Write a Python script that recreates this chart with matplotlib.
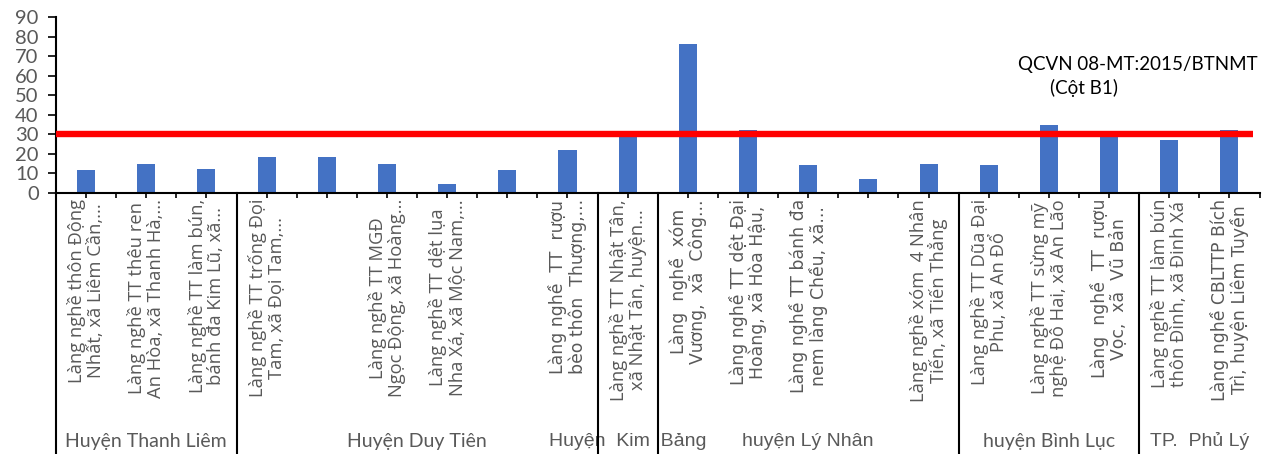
import matplotlib
matplotlib.use("Agg")
import matplotlib.pyplot as plt
from matplotlib.lines import Line2D
from matplotlib.transforms import blended_transform_factory

# Sampling sites (villages) and measured values
categories = [
    "Làng nghề thôn Động\nNhất, xã Liêm Cần,...",
    "Làng nghề TT thêu ren\nAn Hòa, xã Thanh Hà,...",
    "Làng nghề TT làm bún,\nbánh đa Kim Lũ, xã...",
    "Làng nghề TT trống Đọi\nTam, xã Đọi Tam,...",
    "",
    "Làng nghề TT MGĐ\nNgọc Động, xã Hoàng...",
    "Làng nghề TT dệt lụa\nNha Xá, xã Mộc Nam,...",
    "",
    "Làng nghề  TT  rượu\nbèo thôn  Thượng,...",
    "Làng nghề TT Nhật Tân,\nxã Nhật Tân, huyện...",
    "Làng  nghề  xóm\nVương,  xã  Công...",
    "Làng nghề TT dệt Đại\nHoàng, xã Hòa Hậu,",
    "Làng nghề TT bánh đa\nnem làng Chều, xã...",
    "",
    "Làng nghề xóm  4 Nhân\nTiến, xã Tiến Thẳng",
    "Làng nghề TT Dũa Đại\nPhu, xã An Đổ",
    "Làng nghề TT sừng mỹ\nnghệ Đô Hai, xã An Lão",
    "Làng  nghề  TT  rượu\nVọc,  xã  Vũ Bản",
    "Làng nghề TT làm bún\nthôn Đình, xã Đinh Xá",
    "Làng nghề CBLTTP Bích\nTrì, huyện Liêm Tuyền",
]
values = [12, 15, 12.5, 18.3, 18.3, 15, 4.5, 11.7, 22, 29,
          76, 32, 14.5, 7, 15, 14.5, 35, 29.5, 27, 32]

# District groups and how many sites each holds
groups = ["Huyện Thanh Liêm", "Huyện Duy Tiên", "Huyện  Kim  Bảng",
          "huyện Lý Nhân", "huyện Bình Lục", "TP.  Phủ Lý"]
group_sizes = [3, 6, 1, 5, 3, 2]

limit_value = 30
limit_label = ["QCVN 08-MT:2015/BTNMT", "(Cột B1)"]
yticks = [0, 10, 20, 30, 40, 50, 60, 70, 80, 90]

CAL = ["Lato", "DejaVu Sans"]
ARI = ["Liberation Sans", "DejaVu Sans"]
CAT_CAL = ["Open Sans", "DejaVu Sans"]
CAT_ARI = ["DejaVu Sans"]
cat_fonts = [CAT_CAL, CAT_CAL, CAT_CAL, CAT_CAL, CAT_CAL, CAT_CAL, CAT_CAL,
             CAT_CAL, CAT_ARI, CAT_CAL, CAT_ARI, CAT_ARI, CAT_ARI, CAT_CAL,
             CAT_CAL, CAT_CAL, CAT_CAL, CAT_ARI, CAT_CAL, CAT_ARI]
cat_sizes = {id(CAT_CAL): 13.2, id(CAT_ARI): 12.4}
group_fonts = [CAL, CAL, ARI, ARI, CAL, ARI]
GRAY = "#595959"

W, H = 1271, 454
fig = plt.figure(figsize=(W / 100, H / 100), dpi=100)
ax = fig.add_axes([56 / W, 1 - 193 / H, (1259.5 - 56) / W, (193 - 17) / H])

x = list(range(len(values)))
ax.bar(x, values, width=0.3, color="#4472C4", zorder=2)
ax.hlines(limit_value, -0.5, 19.4, color="#FF0000", lw=4.6, zorder=3)

ax.set_xlim(-0.5, len(values) - 0.5)
ax.set_ylim(0, 90)
ax.set_yticks(yticks)
ax.set_yticklabels([str(v) for v in yticks], fontfamily=CAL, fontsize=14.5, color=GRAY)
ax.tick_params(axis="y", direction="out", length=5.5, width=1.2, color="black", pad=7)

half_ticks = [i * 0.5 - 0.5 for i in range(2 * len(values) + 1)]
ax.set_xticks(half_ticks)
ax.set_xticklabels([""] * len(half_ticks))
ax.tick_params(axis="x", direction="out", length=3.5, width=1.2, color="black")

for side in ("top", "right"):
    ax.spines[side].set_visible(False)
ax.spines["left"].set_linewidth(1.5)
ax.spines["bottom"].set_linewidth(1.5)

ax.text(17.48, 65.5, limit_label[0], ha="center", va="center", fontsize=13.5,
        fontfamily=CAL, color="black")
ax.text(16.02, 53.5, limit_label[1], ha="left", va="center", fontsize=13.5,
        fontfamily=CAL, color="black")

# Category labels under each bar, rotated, top-anchored below the axis
bt = blended_transform_factory(ax.transData, fig.transFigure)
for i, lab in enumerate(categories):
    if not lab:
        continue
    fam = cat_fonts[i]
    ax.text(i, 1 - 199 / H, lab, rotation=90, ha="center", va="top",
            multialignment="center", fontsize=cat_sizes[id(fam)], fontfamily=fam,
            color=GRAY, transform=bt, linespacing=1.05, clip_on=False)

# Group separators and district names
start = -0.5
ax.add_line(Line2D([start, start], [1 - 193 / H, 0], transform=bt, color="black",
                   lw=1.5, clip_on=False))
for name, n, fam in zip(groups, group_sizes, group_fonts):
    end = start + n
    ax.text((start + end) / 2, 1 - 441 / H, name, ha="center", va="center",
            fontsize=14, fontfamily=fam, color=GRAY, transform=bt, clip_on=False)
    if end < len(values) - 0.5:
        ax.add_line(Line2D([end, end], [1 - 193 / H, 0], transform=bt,
                           color="black", lw=1.5, clip_on=False, zorder=5))
    start = end

fig.savefig("out.png", dpi=100)
